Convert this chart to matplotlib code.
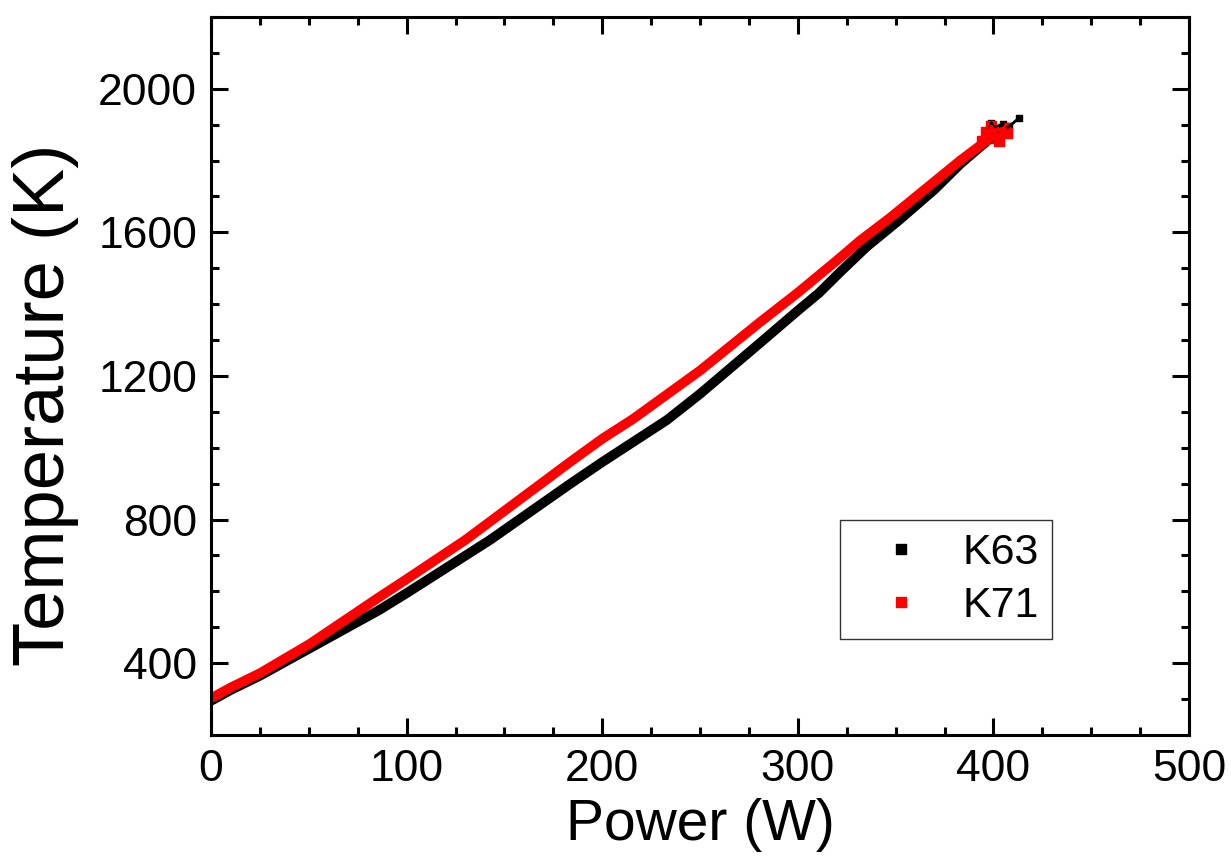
import matplotlib
matplotlib.use("Agg")
import matplotlib.pyplot as plt
from matplotlib.ticker import MultipleLocator
from matplotlib.lines import Line2D

plt.rcParams["font.family"] = ["Liberation Sans", "DejaVu Sans"]

# K63 (black) power vs temperature
power_k63 = [0, 10, 25, 50, 86, 100, 142.6, 183.5, 200, 233, 250, 280.7, 300, 311, 321, 335, 352, 370, 383, 400]
temp_k63 = [295, 325, 365, 440, 548, 595, 743, 899, 960, 1077, 1150, 1292, 1382, 1432, 1486, 1559, 1635, 1720, 1790, 1870]

# K71 (red)
power_k71 = [0, 10, 25, 50, 86, 100, 130, 183.5, 200, 215.7, 250, 280.7, 300, 320, 331.8, 347, 365, 383, 400]
temp_k71 = [302, 332, 372, 452, 584, 634, 743, 960, 1025, 1080, 1215, 1350, 1432, 1522, 1577, 1640, 1720, 1800, 1870]

# noisy points at the top end of each run
end_power_k63 = [395, 399, 403, 397, 405, 400, 408, 413]
end_temp_k63 = [1850, 1905, 1855, 1885, 1902, 1868, 1895, 1918]
end_power_k71 = [394, 399, 403, 396, 406, 401, 407, 398]
end_temp_k71 = [1855, 1895, 1855, 1880, 1890, 1862, 1876, 1870]

fig = plt.figure(figsize=(12.31, 8.66), dpi=100)
ax = fig.add_axes([0.1714, 0.1513, 0.7945, 0.8291])

ax.plot(power_k63, temp_k63, color="black", lw=7, solid_capstyle="butt")
ax.plot(end_power_k63, end_temp_k63, color="black", lw=2)
ax.scatter(end_power_k63, end_temp_k63, color="black", marker="s", s=25)

ax.plot(power_k71, temp_k71, color="red", lw=7, solid_capstyle="butt")
ax.plot(end_power_k71, end_temp_k71, color="red", lw=2.5)
ax.scatter(end_power_k71, end_temp_k71, color="red", marker="s", s=45)

ax.set_xlim(0, 500)
ax.set_ylim(200, 2200)
ax.xaxis.set_major_locator(MultipleLocator(100))
ax.xaxis.set_minor_locator(MultipleLocator(25))
ax.yaxis.set_major_locator(MultipleLocator(400))
ax.yaxis.set_minor_locator(MultipleLocator(100))
ax.set_yticks([400, 800, 1200, 1600, 2000])

ax.tick_params(which="both", direction="in", top=True, right=True, width=2.2, labelsize=32, pad=10)
ax.tick_params(which="major", length=12)
ax.tick_params(which="minor", length=6)
for s in ax.spines.values():
    s.set_linewidth(2.2)

ax.set_xlabel("Power (W)", fontsize=41, labelpad=6)
ax.set_ylabel("Temperature (K)", fontsize=52)
ax.yaxis.set_label_coords(-0.135, 0.46)

handles = [
    Line2D([], [], color="black", marker="s", linestyle="none", markersize=7),
    Line2D([], [], color="red", marker="s", linestyle="none", markersize=7),
]
leg = ax.legend(handles, ["K63", "K71"], loc="upper left", bbox_to_anchor=(0.643, 0.2994),
                borderaxespad=0, fontsize=31, frameon=True, fancybox=False,
                handletextpad=0.3, handlelength=2.25, borderpad=0.3, labelspacing=0.3)
leg.get_frame().set_edgecolor("black")
leg.get_frame().set_linewidth(1.0)

fig.savefig("out.png", dpi=100)
